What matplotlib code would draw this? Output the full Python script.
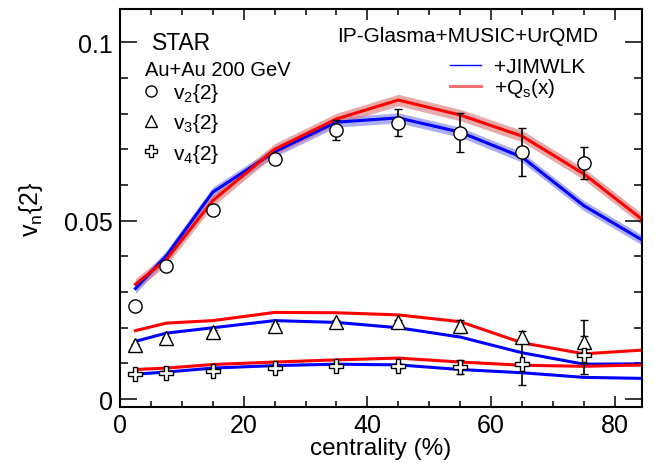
# -*- coding: utf-8 -*-
"""v_n{2} vs centrality: STAR Au+Au 200 GeV data against IP-Glasma+MUSIC+UrQMD."""
import matplotlib

matplotlib.use("Agg")
import matplotlib.pyplot as plt
import matplotlib.ticker as ticker
from matplotlib.lines import Line2D

plt.rcParams["font.family"] = ["Liberation Sans", "DejaVu Sans"]
plt.rcParams["mathtext.fontset"] = "custom"
plt.rcParams["mathtext.rm"] = "Liberation Sans"
plt.rcParams["mathtext.it"] = "Liberation Sans:italic"

# --- STAR data ---
cent = [2.5, 7.5, 15, 25, 35, 45, 55, 65, 75]
v2_data = [0.0260, 0.0374, 0.0529, 0.0673, 0.0754, 0.0774, 0.0746, 0.0693, 0.0661]
v2_err = [0.0008, 0.0008, 0.0010, 0.0012, 0.0027, 0.0038, 0.0055, 0.0067, 0.0045]
v3_data = [0.0151, 0.0170, 0.0189, 0.0205, 0.0215, 0.0215, 0.0204, 0.0174, 0.0161]
v3_err = [0.0004, 0.0004, 0.0005, 0.0005, 0.0006, 0.0008, 0.0019, 0.0016, 0.0061]
v4_data = [0.0071, 0.0074, 0.0080, 0.0087, 0.0094, 0.0092, 0.0090, 0.0098, 0.0123]
v4_err = [0.0003, 0.0003, 0.0004, 0.0004, 0.0005, 0.0006, 0.0020, 0.0059, 0.0053]

# --- model curves ---
cent_model = [2.5, 7.5, 15, 25, 35, 45, 55, 65, 75, 85]
v2_jimwlk = [0.0310, 0.0402, 0.0580, 0.0693, 0.0776, 0.0788, 0.0748, 0.0678, 0.0542, 0.0440]
v2_qsx = [0.0322, 0.0391, 0.0556, 0.0700, 0.0785, 0.0838, 0.0796, 0.0737, 0.0631, 0.0496]
v2_jimwlk_band = 0.0014
v2_qsx_band = 0.0016
v3_jimwlk = [0.0162, 0.0185, 0.0200, 0.0220, 0.0215, 0.0200, 0.0174, 0.0130, 0.0098, 0.0099]
v3_qsx = [0.0192, 0.0213, 0.0220, 0.0243, 0.0242, 0.0236, 0.0217, 0.0158, 0.0127, 0.0138]
v4_jimwlk = [0.0070, 0.0076, 0.0087, 0.0094, 0.0098, 0.0096, 0.0083, 0.0074, 0.0061, 0.0058]
v4_qsx = [0.0083, 0.0087, 0.0097, 0.0104, 0.0110, 0.0115, 0.0104, 0.0095, 0.0092, 0.0096]

BLUE = "#0000ff"
RED = "#ff0000"

fig = plt.figure(figsize=(6.55, 4.64), dpi=100)
ax = fig.add_axes([120 / 655, 1 - 408 / 464, 522 / 655, 398 / 464])

# v2 with uncertainty bands
lo = [v - v2_jimwlk_band for v in v2_jimwlk]
hi = [v + v2_jimwlk_band for v in v2_jimwlk]
ax.fill_between(cent_model, lo, hi, color="#6a6ae8", alpha=0.55, lw=0, zorder=1)
lo = [v - v2_qsx_band for v in v2_qsx]
hi = [v + v2_qsx_band for v in v2_qsx]
ax.fill_between(cent_model, lo, hi, color="#d87070", alpha=0.6, lw=0, zorder=1)
ax.plot(cent_model, v2_jimwlk, color=BLUE, lw=2.2, zorder=2)
ax.plot(cent_model, v2_qsx, color=RED, lw=2.2, zorder=2)

for jim, qs in ((v3_jimwlk, v3_qsx), (v4_jimwlk, v4_qsx)):
    ax.plot(cent_model, jim, color=BLUE, lw=2.2, zorder=2)
    ax.plot(cent_model, qs, color=RED, lw=2.2, zorder=2)

h2 = ax.errorbar(cent, v2_data, yerr=v2_err, fmt="o", ms=9.5, mfc="white", mec="black",
                 mew=1.0, ecolor="black", elinewidth=1.2, capsize=3, capthick=1.2, zorder=4)
h3 = ax.errorbar(cent, v3_data, yerr=v3_err, fmt="^", ms=10, mfc="white", mec="black",
                 mew=1.0, ecolor="black", elinewidth=1.2, capsize=3, capthick=1.2, zorder=4)
h4 = ax.errorbar(cent, v4_data, yerr=v4_err, fmt="P", ms=10, mfc="white", mec="black",
                 mew=1.0, ecolor="black", elinewidth=1.2, capsize=3, capthick=1.2, zorder=4)

ax.set_xlim(0, 84.4)
ax.set_ylim(-0.0022, 0.1093)
ax.xaxis.set_major_locator(ticker.MultipleLocator(20))
ax.xaxis.set_minor_locator(ticker.MultipleLocator(5))
ax.yaxis.set_major_locator(ticker.FixedLocator([0, 0.05, 0.1]))
ax.yaxis.set_minor_locator(ticker.MultipleLocator(0.01))
ax.yaxis.set_major_formatter(ticker.FuncFormatter(lambda v, p: "%g" % round(v, 4)))
ax.tick_params(which="both", direction="in", top=True, right=True, width=1.1, labelsize=18)
ax.tick_params(axis="x", which="major", length=8, pad=4)
ax.tick_params(axis="x", which="minor", length=4)
ax.tick_params(axis="y", which="major", length=12, pad=5)
ax.tick_params(axis="y", which="minor", length=6)
for s in ax.spines.values():
    s.set_linewidth(1.5)

ax.set_xlabel("centrality (%)", fontsize=17.5, labelpad=0)
ax.set_ylabel(r"$\mathregular{v_n\{2\}}$", fontsize=18, labelpad=14)

# data legend
fig.text(152 / 655, 1 - 43 / 464, "STAR", fontsize=16.5, va="center")
fig.text(145 / 655, 1 - 70 / 464, "Au+Au 200 GeV", fontsize=14.5, va="center")
leg1 = ax.legend(
    [h2[0], h3[0], h4[0]],
    [r"$\mathregular{v_2\{2\}}$", r"$\mathregular{v_3\{2\}}$", r"$\mathregular{v_4\{2\}}$"],
    loc="upper left", bbox_to_anchor=(141 / 655, 1 - 82 / 464), bbox_transform=fig.transFigure,
    frameon=False, fontsize=15, handlelength=1.0, handletextpad=0.55, labelspacing=0.35,
    borderpad=0, borderaxespad=0,
)
for h in leg1.legend_handles:
    h.set_markersize(8)
ax.add_artist(leg1)

# model legend
fig.text(337 / 655, 1 - 37 / 464, "IP-Glasma+MUSIC+UrQMD", fontsize=15, va="center")
model_handles = [Line2D([], [], color=BLUE, lw=1.0), Line2D([], [], color="#f07070", lw=2.2)]
ax.legend(
    model_handles, ["+JIMWLK", r"+Q$\mathregular{_s}$(x)"],
    loc="upper left", bbox_to_anchor=(450 / 655, 1 - 58 / 464), bbox_transform=fig.transFigure,
    frameon=False, fontsize=15, handlelength=1.5, handletextpad=0.6, labelspacing=0.02,
    borderpad=0, borderaxespad=0,
)

fig.savefig("out.png", dpi=100)
